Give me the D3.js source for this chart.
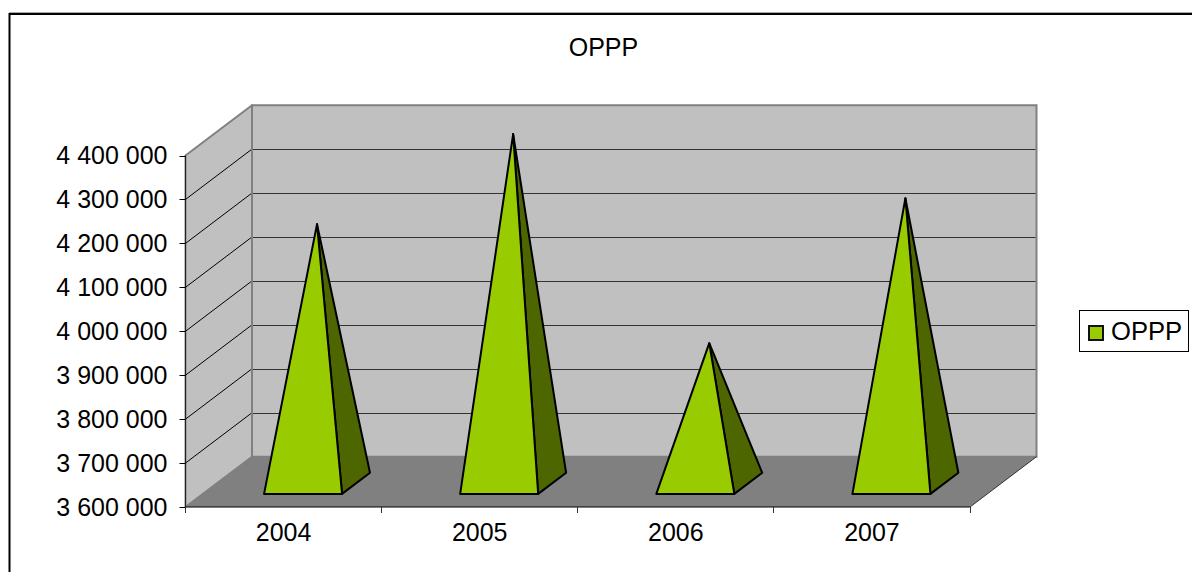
<!DOCTYPE html>
<html><head><meta charset="utf-8">
<script src="https://cdn.jsdelivr.net/npm/d3@7"></script>
<style>html,body{margin:0;padding:0;background:#fff;overflow:hidden}svg{display:block}text{font-family:"Liberation Sans",Arial,sans-serif;fill:#000}</style>
</head><body><svg id="c" width="1192" height="572"></svg>
<script>
const categories = ["2004","2005","2006","2007"];
const values = [4190000,4395000,3919000,4249000];
const seriesName = "OPPP";
const tickValues = [3600000,3700000,3800000,3900000,4000000,4100000,4200000,4300000,4400000];
const tickLabels = ["3 600 000","3 700 000","3 800 000","3 900 000","4 000 000","4 100 000","4 200 000","4 300 000","4 400 000"];

const svg = d3.select("#c");
const x = d3.scaleBand().domain(categories).range([185.5,970]);
const y = d3.scaleLinear().domain([3600000,4400000]).range([507,155.5]);
const dX = d3.scaleLinear().domain([0,1]).range([0,66.5]);
const dY = d3.scaleLinear().domain([0,1]).range([0,-50.3]);
const P = (px,v,d)=>[px+dX(d), y(v)+dY(d)];
const poly = pts => pts.map(p=>p.join(",")).join(" ");
const [v0,v1] = y.domain();
const [x0,x1] = x.range();
const FS = 25;

// frame
svg.append("line").attr("x1",9.5).attr("x2",9.5).attr("y1",13).attr("y2",572).attr("stroke","#000").attr("stroke-width",2);
svg.append("line").attr("x1",9).attr("x2",1192).attr("y1",12.5).attr("y2",12.5).attr("stroke","#aaa").attr("stroke-width",1);
svg.append("line").attr("x1",9).attr("x2",1192).attr("y1",14).attr("y2",14).attr("stroke","#000").attr("stroke-width",2);

// title
svg.append("text").attr("x",603.5).attr("y",56).attr("text-anchor","middle").attr("font-size",FS).text(seriesName);

// walls and floor
svg.append("polygon").attr("points",poly([P(x0,v0,0),P(x0,v0,1),P(x0,v1,1),P(x0,v1,0)])).attr("fill","#c0c0c0").attr("stroke","#808080").attr("stroke-width",2).attr("stroke-linejoin","round");
svg.append("polygon").attr("points",poly([P(x0,v0,1),P(x1,v0,1),P(x1,v1,1),P(x0,v1,1)])).attr("fill","#c0c0c0").attr("stroke","#808080").attr("stroke-width",2);
svg.append("polygon").attr("points",poly([P(x0,v0,0),P(x1,v0,0),P(x1,v0,1),P(x0,v0,1)])).attr("fill","#808080");

// gridlines
tickValues.slice(1,-1).forEach(v=>{
  const a=P(x0,v,0), b=P(x0,v,1), c=P(x1,v,1);
  svg.append("line").attr("x1",a[0]).attr("y1",a[1]).attr("x2",b[0]-1).attr("y2",b[1]+0.7).attr("stroke","#000").attr("stroke-width",1);
  svg.append("line").attr("x1",b[0]+1).attr("y1",Math.round(b[1])+0.5).attr("x2",c[0]-1).attr("y2",Math.round(c[1])+0.5).attr("stroke","#333").attr("stroke-width",1.2);
});
// right floor edge
const fr=P(x1,v0,0), br=P(x1,v0,1);
svg.append("line").attr("x1",fr[0]).attr("y1",fr[1]).attr("x2",br[0]).attr("y2",br[1]).attr("stroke","#333").attr("stroke-width",1);

// pyramids
const barW = 78, off = 2.2, dFront = 0.26, dBack = 0.68;
categories.forEach((c,i)=>{
  const cx = x(c)+x.bandwidth()/2+off;
  const l = cx-barW/2, r = cx+barW/2;
  const A = P(l,v0,dFront), B = P(r,v0,dFront), C = P(r,v0,dBack);
  const T = P(cx,values[i],(dFront+dBack)/2);
  svg.append("polygon").attr("points",poly([B,C,T])).attr("fill","#4d6600").attr("stroke","#000").attr("stroke-width",2).attr("stroke-linejoin","round");
  svg.append("polygon").attr("points",poly([A,B,T])).attr("fill","#99cc00").attr("stroke","#000").attr("stroke-width",2).attr("stroke-linejoin","round");
});

// axes
svg.append("line").attr("x1",x0).attr("x2",x0).attr("y1",y(v1)).attr("y2",y(v0)).attr("stroke","#222").attr("stroke-width",1);
svg.append("line").attr("x1",x0).attr("x2",x1).attr("y1",y(v0)).attr("y2",y(v0)).attr("stroke","#000").attr("stroke-width",1.2);
tickValues.forEach((v,i)=>{
  const py=Math.round(y(v))+0.5;
  svg.append("line").attr("x1",x0-6).attr("x2",x0).attr("y1",py).attr("y2",py).attr("stroke","#000");
  svg.append("text").attr("x",167.5).attr("y",y(v)+8.5).attr("text-anchor","end").attr("font-size",FS).text(tickLabels[i]);
});
categories.forEach(c=>{
  svg.append("text").attr("x",x(c)+x.bandwidth()/2).attr("y",541).attr("text-anchor","middle").attr("font-size",FS).text(c);
});
categories.map(c=>x(c)).concat([x1]).forEach(px=>{
  svg.append("line").attr("x1",Math.floor(px)+0.5).attr("x2",Math.floor(px)+0.5).attr("y1",y(v0)).attr("y2",y(v0)+6).attr("stroke","#333");
});

// legend
svg.append("rect").attr("x",1079.5).attr("y",310.5).attr("width",109).attr("height",41).attr("fill","#fff").attr("stroke","#000").attr("stroke-width",1);
svg.append("rect").attr("x",1089).attr("y",326).attr("width",14).attr("height",14).attr("fill","#99cc00").attr("stroke","#111").attr("stroke-width",2);
svg.append("text").attr("x",1111).attr("y",339.5).attr("font-size",25.6).text(seriesName);
</script></body></html>
